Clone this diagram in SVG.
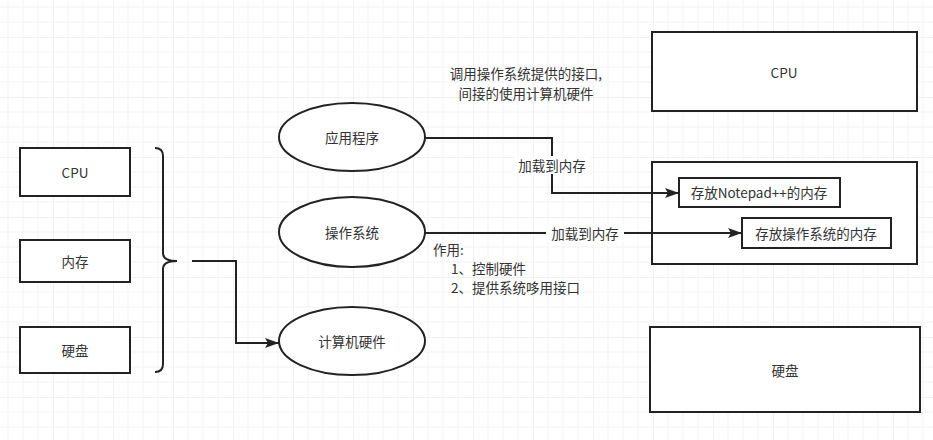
<svg xmlns="http://www.w3.org/2000/svg" width="933" height="440" viewBox="0 0 933 440">
  <style>
    .box { fill: #ffffff; stroke: #222222; stroke-width: 2; }
    .ell { fill: #ffffff; stroke: #222222; stroke-width: 2; }
    .t { font-family: "Noto Sans CJK SC", "Microsoft YaHei", sans-serif; font-size: 13.5px; fill: #333333; }
    .c { text-anchor: middle; dominant-baseline: central; }
    .edge { fill: none; stroke: #222222; stroke-width: 2; }
    .lbl { fill: #ffffff; }
  </style>
  <defs>
    <pattern id="grid" patternUnits="userSpaceOnUse" x="53" y="37" width="60" height="60">
      <path d="M15 0V60M30 0V60M45 0V60M0 15H60M0 30H60M0 45H60" stroke="#f3f3f3" stroke-width="1" fill="none"/>
      <path d="M0 0V60M0 0H60" stroke="#e4e4e4" stroke-width="1" fill="none"/>
    </pattern>
    <marker id="arrow" viewBox="0 0 14 10" refX="14" refY="5" markerWidth="14" markerHeight="10" markerUnits="userSpaceOnUse" orient="auto">
      <path d="M0 0L14 5L0 10L3 5Z" fill="#222222"/>
    </marker>
  </defs>
  <rect x="0" y="0" width="933" height="440" fill="#ffffff"/>
  <rect x="0" y="0" width="933" height="440" fill="url(#grid)"/>

  <g id="right-mem">
    <rect class="box" x="652" y="162" width="265" height="102"/>
  </g>

  <g id="connectors">
    <path id="brace" class="edge" d="M155 148 Q163 148 163 156 L163 253 Q163 261 177 261 Q163 261 163 269 L163 364 Q163 372 155 372"/>
    <path class="edge" d="M192 261 H236 V343 H279" marker-end="url(#arrow)"/>
    <path class="edge" d="M425 138 H552 V193 H679" marker-end="url(#arrow)"/>
    <path class="edge" d="M425 233 H742" marker-end="url(#arrow)"/>
    <rect class="lbl" x="514" y="156" width="76" height="18"/>
    <text class="t c" x="552" y="165">加载到内存</text>
    <rect class="lbl" x="546" y="224" width="78" height="18"/>
    <text class="t c" x="585" y="233">加载到内存</text>
  </g>

  <g id="left-cpu">
    <rect class="box" x="20" y="148" width="110" height="48"/>
    <text class="t c" x="75" y="172">CPU</text>
  </g>
  <g id="left-mem">
    <rect class="box" x="20" y="240" width="110" height="42"/>
    <text class="t c" x="75" y="261">内存</text>
  </g>
  <g id="left-disk">
    <rect class="box" x="20" y="327" width="110" height="46"/>
    <text class="t c" x="75" y="350">硬盘</text>
  </g>

  <g id="app">
    <ellipse class="ell" cx="352" cy="137" rx="73" ry="34"/>
    <text class="t c" x="352" y="137">应用程序</text>
  </g>
  <g id="os">
    <ellipse class="ell" cx="352" cy="232" rx="73" ry="35"/>
    <text class="t c" x="352" y="232">操作系统</text>
  </g>
  <g id="hw">
    <ellipse class="ell" cx="352" cy="341" rx="73" ry="34"/>
    <text class="t c" x="352" y="341">计算机硬件</text>
  </g>

  <g id="note-top">
    <text class="t c" x="526" y="73">调用操作系统提供的接口,</text>
    <text class="t c" x="526" y="93">间接的使用计算机硬件</text>
  </g>
  <g id="note-os">
    <text class="t" x="433" y="255">作用:</text>
    <text class="t" x="451" y="274">1、控制硬件</text>
    <text class="t" x="451" y="293">2、提供系统哆用接口</text>
  </g>

  <g id="right-cpu">
    <rect class="box" x="652" y="32" width="265" height="79"/>
    <text class="t c" x="784" y="72">CPU</text>
  </g>
  <g id="mem-notepad">
    <rect class="box" x="679" y="178" width="161" height="29"/>
    <text class="t c" x="759" y="192">存放Notepad++的内存</text>
  </g>
  <g id="mem-os">
    <rect class="box" x="742" y="218" width="149" height="30"/>
    <text class="t c" x="816" y="233">存放操作系统的内存</text>
  </g>
  <g id="right-disk">
    <rect class="box" x="650" y="327" width="270" height="85"/>
    <text class="t c" x="785" y="370">硬盘</text>
  </g>
</svg>
